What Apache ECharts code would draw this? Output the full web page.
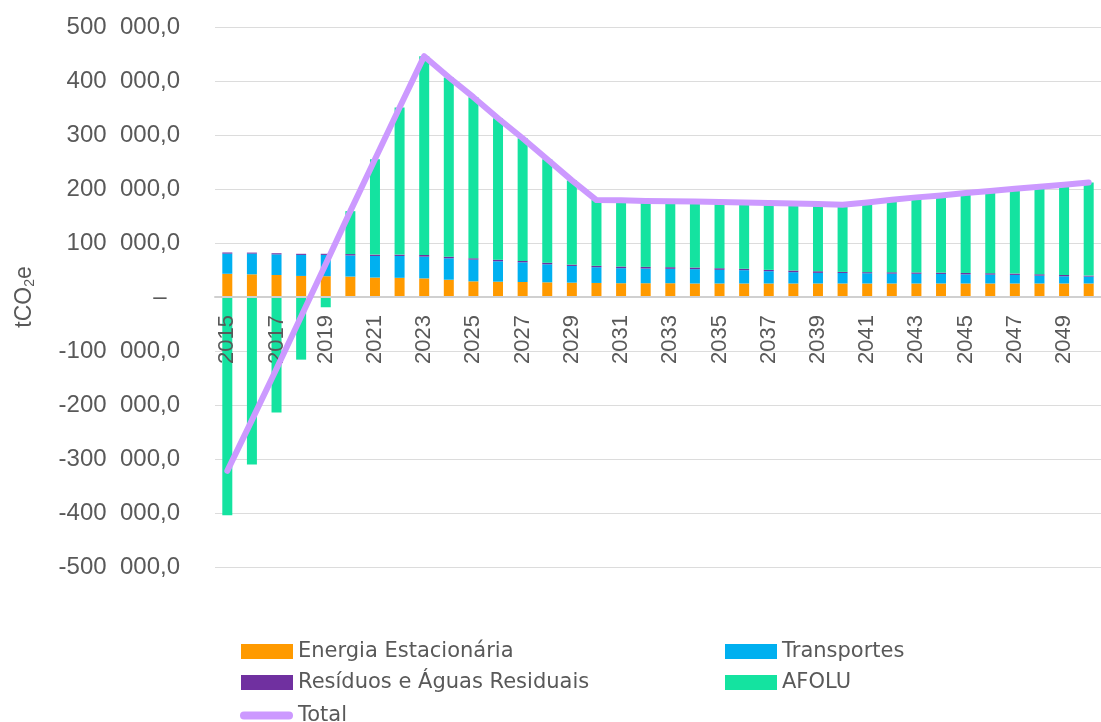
<!DOCTYPE html>
<html>
<head>
<meta charset="utf-8">
<script src="https://cdn.jsdelivr.net/npm/echarts@6/dist/echarts.min.js"></script>
<style>
html,body{margin:0;padding:0;background:#fff;}
#chart{width:1101px;height:722px;}
</style>
</head>
<body>
<div id="chart"></div>
<script>
const years = ['2015','2016','2017','2018','2019','2020','2021','2022','2023','2024','2025','2026','2027','2028','2029','2030','2031','2032','2033','2034','2035','2036','2037','2038','2039','2040','2041','2042','2043','2044','2045','2046','2047','2048','2049','2050'];
const energia = [43000,42000,40700,39000,38500,37800,36000,35500,34500,32000,29000,28400,27800,27200,26600,26000,25500,25500,25500,25000,25000,25000,25000,25000,25000,25000,25000,25000,25000,25000,25000,25000,25000,25000,25000,25000];
const transportes = [37400,38400,38300,39000,39500,39200,40000,40500,40300,39700,40200,37800,36500,33400,30900,29200,27900,27300,26700,26600,25300,24700,22800,21000,19700,19500,19000,18300,18000,17700,17000,16500,15900,14600,13400,12800];
const residuos = [2000,1800,2000,2000,2000,2500,2500,2500,3000,3000,2500,3000,2500,3000,2500,2500,3000,3000,3000,3000,3000,2500,2500,3000,3000,2000,2000,2500,2500,2500,2500,2500,2500,2500,2500,1800];
const afolu = [-404000,-310000,-214000,-116000,-19000,79500,176500,272500,368000,332000,298000,262000,227000,191500,156000,122000,122500,122000,122300,122400,122700,122800,123700,124000,124300,124500,129000,134000,139000,143000,148000,152500,157000,162000,167000,172400];
const total = [-322000,-228000,-133000,-36000,61000,159000,255000,351000,446000,407000,370000,331000,294000,255000,216000,179500,179000,178000,177500,177000,176000,175000,174000,173000,172000,171000,175000,180000,184500,188000,192500,196500,200500,204000,208000,212000];
const yTicks = {min:-500000, max:500000, interval:100000};

const textColor = '#595959';
function fmt(v){
  if (v === 0) return '–  ';
  const neg = v < 0;
  const s = Math.abs(v).toFixed(0).replace(/\B(?=(\d{3})+(?!\d))/g, '  ');
  return (neg ? '-' : '') + s + ',0';
}

const legendText = {fontSize:21, color:textColor, lineHeight:18, fontFamily:'DejaVu Sans'};
const chart = echarts.init(document.getElementById('chart'), null, {renderer:'canvas'});
const barBase = {type:'bar', stack:'s', barWidth:10};
chart.setOption({
  animation:false,
  textStyle:{fontFamily:'Liberation Sans, Arial, sans-serif'},
  grid:{left:215, top:27, width:896, height:540, containLabel:false},
  xAxis:{
    type:'category', data:years, position:'bottom', offset:-270, z:5,
    axisLine:{onZero:false, lineStyle:{color:'#d0d0d0', width:2}},
    axisTick:{show:false},
    axisLabel:{interval:1, rotate:90, fontSize:22, color:textColor, margin:18, fontFamily:'Liberation Sans'}
  },
  yAxis:{
    type:'value', min:yTicks.min, max:yTicks.max, interval:yTicks.interval,
    axisLine:{show:false}, axisTick:{show:false},
    splitLine:{lineStyle:{color:'#dcdcdc', width:1}},
    axisLabel:{formatter:fmt, fontSize:24, color:textColor, margin:35, fontFamily:'Liberation Sans'},
    name:'{a|tCO}{b|2}{a|e}', nameLocation:'middle', nameRotate:90, nameGap:178,
    nameTextStyle:{rich:{a:{fontSize:23, color:textColor, fontFamily:'Liberation Sans'}, b:{fontSize:14, color:textColor, fontFamily:'Liberation Sans', padding:[10,0,0,0]}}}
  },
  legend:[
    {orient:'vertical', left:241, top:641, padding:0, itemWidth:52, itemHeight:15, itemGap:10, icon:'rect',
     data:['Energia Estacionária','Resíduos e Águas Residuais'], textStyle:legendText},
    {orient:'vertical', left:725, top:641, padding:0, itemWidth:52, itemHeight:15, itemGap:10, icon:'rect',
     data:['Transportes','AFOLU'], textStyle:legendText},
    {orient:'vertical', left:240, top:705, padding:0, itemWidth:53, itemHeight:8,
     data:[{name:'Total', icon:'path://M4,0 L49,0 A4,4 0 1 1 49,8 L4,8 A4,4 0 1 1 4,0 Z'}], textStyle:legendText}
  ],
  series:[
    Object.assign({}, barBase, {name:'Energia Estacionária', data:energia, itemStyle:{color:'#FF9A00'}}),
    Object.assign({}, barBase, {name:'Transportes', data:transportes, itemStyle:{color:'#00B0F0'}}),
    Object.assign({}, barBase, {name:'Resíduos e Águas Residuais', data:residuos, itemStyle:{color:'#7030A0'}}),
    Object.assign({}, barBase, {name:'AFOLU', data:afolu, itemStyle:{color:'#14E3A0'}}),
    {type:'line', name:'Total', data:total, symbol:'none', z:10,
     itemStyle:{color:'#CC99FF'},
     lineStyle:{color:'#CC99FF', width:6, cap:'round', join:'round'}}
  ]
});
</script>
</body>
</html>
